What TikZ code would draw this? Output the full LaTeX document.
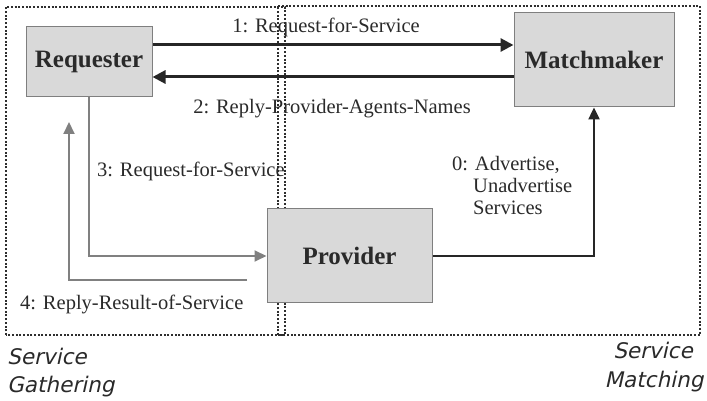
\documentclass[tikz,border=0pt]{standalone}
\usepackage{fontspec}
\setmainfont{Liberation Serif}
\newfontfamily\zonefont{DejaVu Sans}
\usetikzlibrary{arrows.meta}
\definecolor{boxfill}{HTML}{D9D9D9}
\definecolor{boxline}{HTML}{7F7F7F}
\definecolor{txt}{HTML}{2A2A2A}
\definecolor{grayline}{HTML}{808080}
\definecolor{dotc}{HTML}{2E2E2E}
\begin{document}
\begin{tikzpicture}[x=1pt,y=1pt,
  agent/.style={draw=boxline, fill=boxfill, line width=1pt, inner sep=0pt,
    font=\fontsize{25}{30}\selectfont\bfseries, text=txt},
  zone/.style={draw=dotc, line width=2.2pt, dash pattern=on 2pt off 1.7pt},
  lbl/.style={font=\fontsize{20.5}{24}\selectfont, text=txt, inner sep=0pt},
  zlbl/.style={font=\fontsize{21.5}{26}\selectfont\zonefont, text=txt, inner sep=0pt,
    xslant=0.22, transform shape},
  blackarrow/.style={draw=black!85, line width=3pt, -{Triangle[length=13pt,width=13pt]}},
  darkarrow/.style={draw=black!85, line width=2.4pt, -{Triangle[length=12pt,width=11pt]}},
  grayarrow/.style={draw=grayline, line width=2pt, -{Triangle[length=12pt,width=11pt]}}]
\useasboundingbox (0,0) rectangle (707,401);
% zones
\draw[zone] (6,66) rectangle (285,394);
\draw[zone] (278,66) rectangle (700,395);
% agents
\node[agent, minimum width=126pt, minimum height=70pt] (req) at (89,339) {Requester};
\node[agent, minimum width=160pt, minimum height=94pt] (mm) at (594,341) {Matchmaker};
\node[agent, minimum width=165pt, minimum height=94pt] (prov) at (349.5,145) {Provider};
% arrows 1 and 2
\coordinate (a1) at ([yshift=17pt]req.east);
\coordinate (a2) at ([yshift=-15pt]req.east);
\draw[blackarrow] (a1) -- (a1 -| mm.west);
\draw[blackarrow] (a2 -| mm.west) -- (a2);
% arrow 3
\draw[grayarrow] (req.south) |- (prov.west);
% arrow 4
\coordinate (c4s) at (247,121);
\coordinate (c4t) at (69,279);
\draw[grayarrow] (c4s) -| (c4t);
% arrow 0
\draw[darkarrow] (prov.east) -| (mm.south);
% labels
\node[lbl, anchor=base] (l1) at (326,368) {1: Request-for-Service};
\node[lbl, anchor=base] (l2) at (332,287) {2: Reply-Provider-Agents-Names};
\node[lbl, anchor=base west] (l3) at (97,224) {3: Request-for-Service};
\node[lbl, anchor=base west] (l4) at (20,91) {4: Reply-Result-of-Service};
\node[lbl, anchor=base west] (l0a) at (452,230) {0: Advertise,};
\node[lbl, anchor=base west] (l0b) at (473,208) {Unadvertise};
\node[lbl, anchor=base west] (l0c) at (473,186) {Services};
% zone labels
\node[zlbl, anchor=base west] (g1) at (7,36) {Service};
\node[zlbl, anchor=base west] (g2) at (7,8) {Gathering};
\node[zlbl, anchor=base] (m1) at (653,42) {Service};
\node[zlbl, anchor=base] (m2) at (654,13) {Matching};
\end{tikzpicture}
\end{document}
